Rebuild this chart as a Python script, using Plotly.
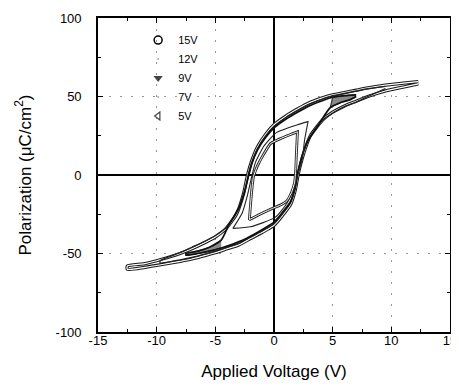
import plotly.graph_objects as go

# ---- data (V in volts, P in uC/cm^2) ----
# 15 V loop
v15_up = [12.3, 11.0, 9.5, 8.0, 7.0, 6.0, 5.0, 4.0, 3.0, 2.0, 1.0, 0.0, -0.7, -1.4, -1.9, -2.25, -2.6, -3.2, -4.2, -5.0, -6.0, -7.0, -8.0, -9.5, -11.0, -12.5]
p15_up = [59.5, 58.5, 57.3, 55.5, 54.0, 52.5, 51.0, 48.8, 46.0, 42.0, 37.5, 32.0, 26.0, 18.0, 9.0, 0.0, -12.0, -25.0, -35.0, -39.5, -43.5, -47.0, -50.0, -53.5, -56.5, -58.0]
v15_dn = [-12.5, -11.0, -9.5, -8.0, -7.0, -6.0, -5.0, -4.0, -3.0, -2.0, -1.0, 0.0, 0.7, 1.4, 1.8, 2.05, 2.5, 3.1, 4.2, 5.0, 6.0, 7.0, 8.0, 9.5, 11.0, 12.3]
p15_dn = [-60.0, -58.8, -57.0, -55.0, -53.5, -51.5, -49.5, -47.0, -44.5, -40.5, -36.5, -32.0, -26.0, -19.0, -10.0, 0.0, 13.0, 25.0, 35.5, 40.0, 44.0, 47.0, 50.0, 53.5, 56.0, 58.0]

# 12 V loop
v12_up = [9.5, 8.0, 7.0, 6.0, 5.0, 4.0, 3.0, 2.0, 1.0, 0.0, -0.7, -1.4, -1.9, -2.2, -2.5, -3.1, -4.0, -5.0, -6.0, -7.0, -8.0, -9.7]
p12_up = [56.5, 55.0, 53.5, 52.0, 50.5, 48.0, 45.0, 41.0, 36.5, 31.0, 25.0, 17.0, 8.0, 0.0, -11.0, -23.0, -33.0, -38.5, -42.5, -46.0, -49.5, -54.5]
v12_dn = [-9.7, -8.0, -7.0, -6.0, -5.0, -4.0, -3.0, -2.0, -1.0, 0.0, 0.7, 1.4, 1.8, 2.0, 2.4, 3.0, 4.0, 5.0, 6.0, 7.0, 8.0, 9.5]
p12_dn = [-56.0, -54.0, -52.5, -50.5, -48.5, -46.0, -43.5, -39.5, -35.5, -31.0, -25.0, -18.0, -9.0, 0.0, 12.0, 23.5, 34.0, 39.5, 43.5, 46.5, 50.0, 55.0]

# 9 V loop
v9_up = [7.0, 6.0, 5.0, 4.0, 3.0, 2.0, 1.0, 0.0, -0.7, -1.4, -1.9, -2.15, -2.5, -3.0, -3.8, -4.5, -5.5, -6.5, -7.5]
p9_up = [51.0, 50.5, 49.5, 47.0, 44.0, 40.0, 35.5, 30.0, 24.0, 16.0, 7.0, 0.0, -10.0, -21.0, -31.0, -41.5, -46.0, -48.5, -50.0]
v9_dn = [-7.5, -6.5, -5.5, -4.5, -3.5, -2.5, -1.5, -0.5, 0.0, 0.7, 1.4, 1.8, 2.0, 2.35, 2.9, 3.8, 4.8, 5.8, 6.5, 7.0]
p9_dn = [-51.0, -50.0, -48.5, -46.5, -44.0, -41.0, -37.0, -32.5, -30.0, -24.0, -17.0, -8.0, 0.0, 11.0, 22.0, 32.0, 43.0, 46.5, 48.0, 50.0]

# 7 V loop
v7_up = [2.9, 2.0, 0.2, -0.9, -1.6, -1.9, -2.3, -2.7, -3.5]
p7_up = [34.0, 32.0, 27.0, 18.0, 7.6, -1.0, -14.0, -24.0, -34.0]
v7_dn = [-3.5, -2.0, 0.1, 1.1, 1.6, 2.0, 2.4, 2.6, 2.9]
p7_dn = [-34.0, -33.0, -27.0, -18.0, -9.5, 0.0, 9.5, 22.0, 34.0]

# 5 V loop
v5_up = [2.0, 1.3, 0.5, -0.3, -0.9, -1.4, -1.75, -1.9, -2.0, -2.1]
p5_up = [27.5, 25.5, 23.0, 20.0, 13.0, 6.0, -1.0, -10.0, -19.0, -28.5]
v5_dn = [-2.1, -1.2, -0.2, 0.6, 1.1, 1.5, 1.75, 1.85, 1.9, 1.95, 2.0]
p5_dn = [-28.5, -25.0, -21.5, -19.0, -16.5, -11.0, -5.0, 3.0, 12.0, 20.0, 27.5]

labels = ["15V", "12V", "9V", "7V", "5V"]

x_ticks = [-15, -10, -5, 0, 5, 10, 15]
y_ticks = [-100, -50, 0, 50, 100]

fig = go.Figure()

def loop(vu, pu, vd, pd):
    return vu + vd, pu + pd

# 15 V: hollow tube look (dense open circles)
x15, y15 = loop(v15_up, p15_up, v15_dn, p15_dn)
fig.add_trace(go.Scatter(x=x15, y=y15, mode="lines", line=dict(color="#1a1a1a", width=3.3, shape="spline", smoothing=0.6), showlegend=False, hoverinfo="skip"))
fig.add_trace(go.Scatter(x=x15, y=y15, mode="lines", line=dict(color="white", width=1.2, shape="spline", smoothing=0.6), showlegend=False, hoverinfo="skip"))

# 12 V
x12, y12 = loop(v12_up, p12_up, v12_dn, p12_dn)
fig.add_trace(go.Scatter(x=x12, y=y12, mode="lines", line=dict(color="#222", width=1.3, shape="spline", smoothing=0.6), showlegend=False, hoverinfo="skip"))

# 9 V: grey filled tips
x9, y9 = loop(v9_up, p9_up, v9_dn, p9_dn)
tip_r = [(v, p) for v, p in zip(x9, y9) if v >= 4.8]
tip_l = [(v, p) for v, p in zip(x9, y9) if v <= -4.4]
for tip in (tip_r, tip_l):
    fig.add_trace(go.Scatter(x=[t[0] for t in tip], y=[t[1] for t in tip], mode="lines", fill="toself",
                             fillcolor="#8a8a8a", line=dict(color="#333", width=1.2), showlegend=False, hoverinfo="skip"))
fig.add_trace(go.Scatter(x=x9, y=y9, mode="lines", line=dict(color="#111", width=1.7, shape="spline", smoothing=0.6), showlegend=False, hoverinfo="skip"))

# 7 V
x7, y7 = loop(v7_up, p7_up, v7_dn, p7_dn)
fig.add_trace(go.Scatter(x=x7 + [x7[0]], y=y7 + [y7[0]], mode="lines", line=dict(color="#222", width=1.1, shape="spline", smoothing=0.5), showlegend=False, hoverinfo="skip"))

# 5 V: hollow tube (open triangles)
x5, y5 = loop(v5_up, p5_up, v5_dn, p5_dn)
fig.add_trace(go.Scatter(x=x5 + [x5[0]], y=y5 + [y5[0]], mode="lines", line=dict(color="#222", width=2.8, shape="spline", smoothing=0.4), showlegend=False, hoverinfo="skip"))
fig.add_trace(go.Scatter(x=x5 + [x5[0]], y=y5 + [y5[0]], mode="lines", line=dict(color="white", width=1.0, shape="spline", smoothing=0.4), showlegend=False, hoverinfo="skip"))

# legend entries
leg_markers = [
    dict(symbol="circle-open", size=8, color="black", line=dict(width=1.5)),
    dict(symbol="circle", size=2, color="#aaa"),
    dict(symbol="triangle-down", size=8, color="#444"),
    dict(symbol="circle", size=2, color="#aaa"),
    dict(symbol="triangle-left-open", size=7, color="#444", line=dict(width=1.2)),
]
for lab, mk in zip(labels, leg_markers):
    fig.add_trace(go.Scatter(x=[None], y=[None], mode="markers", marker=mk, name=lab))

tick_font = dict(family="Liberation Sans, Arial, sans-serif", size=13, color="black")
title_font = dict(family="Liberation Sans, Arial, sans-serif", size=17, color="black")

# the page body adds an 8px offset, so the figure is sized to the remaining window
fig.update_layout(
    width=451, height=380,
    margin=dict(l=90, r=9, t=10, b=56),
    paper_bgcolor="white", plot_bgcolor="white",
    showlegend=True,
    legend=dict(x=0.114, y=0.976, xanchor="left", yanchor="top", bgcolor="rgba(0,0,0,0)",
                font=dict(family="Liberation Sans, Arial, sans-serif", size=11, color="black"),
                tracegroupgap=0),
    xaxis=dict(range=[-15, 15], tickvals=x_ticks, ticktext=[str(t) for t in x_ticks],
               ticks="inside", ticklen=5, tickwidth=1.2, tickcolor="black",
               minor=dict(dtick=2.5, tick0=-15, ticks="inside", ticklen=3, tickcolor="black", showgrid=False),
               showline=True, linecolor="black", linewidth=1.6, mirror="ticks",
               zeroline=True, zerolinecolor="black", zerolinewidth=1.5,
               showgrid=True, gridcolor="#999", griddash="2px,9px", gridwidth=1,
               tickfont=tick_font, automargin=False, ticklabelstandoff=-4,
               title=dict(text="Applied Voltage (V)", font=title_font, standoff=18)),
    yaxis=dict(range=[-100, 100], tickvals=y_ticks, ticktext=[str(t) for t in y_ticks],
               ticks="inside", ticklen=5, tickwidth=1.2, tickcolor="black",
               minor=dict(dtick=25, tick0=-100, ticks="inside", ticklen=3, tickcolor="black", showgrid=False),
               showline=True, linecolor="black", linewidth=1.6, mirror="ticks",
               zeroline=True, zerolinecolor="black", zerolinewidth=1.5,
               showgrid=True, gridcolor="#999", griddash="2px,9px", gridwidth=1,
               tickfont=tick_font, ticklabelstandoff=12, automargin=False,
               title=dict(text="Polarization (\u03bcC/cm<sup>2</sup>)", font=title_font, standoff=20)),
)

fig.write_html("out.html")
